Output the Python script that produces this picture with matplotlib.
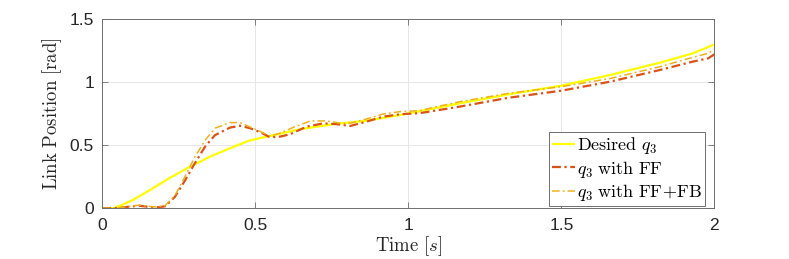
import matplotlib
matplotlib.use("Agg")
import matplotlib.pyplot as plt

# Desired q3
t_des = [0, 0.036, 0.058, 0.1, 0.156, 0.22, 0.287, 0.352, 0.417, 0.48, 0.548, 0.646,
         0.754, 0.864, 0.973, 1.169, 1.33, 1.5, 1.66, 1.823, 1.93, 2.0]
q_des = [0, 0, 0.02, 0.066, 0.145, 0.24, 0.33, 0.41, 0.476, 0.537, 0.574, 0.627,
         0.667, 0.695, 0.74, 0.833, 0.905, 0.973, 1.058, 1.156, 1.23, 1.30]

# q3 with FF
t_ff = [0, 0.04, 0.09, 0.12, 0.172, 0.205, 0.237, 0.27, 0.303, 0.336, 0.368, 0.417,
        0.45, 0.483, 0.515, 0.548, 0.58, 0.613, 0.668, 0.722, 0.766, 0.81, 0.864,
        0.918, 0.973, 1.038, 1.169, 1.33, 1.5, 1.66, 1.823, 1.93, 1.98, 2.0]
q_ff = [0, 0, 0.013, 0.02, 0.005, 0.015, 0.09, 0.22, 0.36, 0.49, 0.58, 0.64,
        0.655, 0.635, 0.605, 0.563, 0.568, 0.587, 0.648, 0.674, 0.667, 0.653, 0.688,
        0.727, 0.746, 0.755, 0.807, 0.878, 0.933, 1.005, 1.098, 1.164, 1.19, 1.222]

# q3 with FF+FB
t_fb = [0, 0.04, 0.09, 0.12, 0.172, 0.205, 0.237, 0.27, 0.303, 0.336, 0.368, 0.417,
        0.45, 0.483, 0.515, 0.548, 0.58, 0.625, 0.68, 0.73, 0.78, 0.81, 0.864, 0.918,
        0.973, 1.038, 1.1, 1.169, 1.33, 1.5, 1.66, 1.823, 1.93, 1.98, 2.0]
q_fb = [0, 0, 0.015, 0.025, 0.01, 0.02, 0.1, 0.25, 0.41, 0.54, 0.635, 0.68,
        0.68, 0.645, 0.61, 0.574, 0.595, 0.643, 0.693, 0.693, 0.675, 0.675, 0.709, 0.748,
        0.767, 0.775, 0.81, 0.846, 0.913, 0.965, 1.03, 1.124, 1.198, 1.23, 1.264]

xticks = [0, 0.5, 1, 1.5, 2]
xtick_labels = ["0", "0.5", "1", "1.5", "2"]
yticks = [0, 0.5, 1, 1.5]
ytick_labels = ["0", "0.5", "1", "1.5"]

plt.rcParams["mathtext.fontset"] = "cm"

fig = plt.figure(figsize=(7.89, 2.59), dpi=100)
ax = fig.add_axes([0.1297, 0.196, 0.7757, 0.7296])

ax.plot(t_des, q_des, color="#FFFF00", lw=1.6, solid_capstyle="butt",
        label=r"$\mathrm{Desired}\ q_3$")
ax.plot(t_ff, q_ff, color="#D95319", lw=1.6, linestyle=(0, (4, 1.6, 1, 1.6)),
        label=r"$q_3\ \mathrm{with\ FF}$")
ax.plot(t_fb, q_fb, color="#EDB120", lw=1.1, linestyle=(0, (5, 2, 1.2, 2)),
        label=r"$q_3\ \mathrm{with\ FF\!+\!FB}$")

ax.set_xlim(0, 2)
ax.set_ylim(0, 1.5)
ax.set_xticks(xticks)
ax.set_xticklabels(xtick_labels)
ax.set_yticks(yticks)
ax.set_yticklabels(ytick_labels)
ax.grid(True, color="#E6E6E6", lw=0.7)
ax.set_axisbelow(True)
for s in ax.spines.values():
    s.set_color("#6E6E6E")
    s.set_linewidth(0.7)
ax.tick_params(direction="in", length=4, width=0.6, color="#6E6E6E",
               top=True, right=True, labelsize=12.5, labelcolor="#262626")
ax.tick_params(axis="x", pad=7)
ax.tick_params(axis="y", pad=6)
for lbl in ax.get_xticklabels() + ax.get_yticklabels():
    lbl.set_family("Liberation Sans")

ax.set_xlabel(r"$\mathrm{Time}\ [s]$", fontsize=13.5, labelpad=1, color="#262626")
ax.set_ylabel(r"$\mathrm{Link\ Position\ [rad]}$", fontsize=13.5, labelpad=4, color="#262626")

leg = ax.legend(loc="lower right", bbox_to_anchor=(0.985, 0.012), fontsize=13,
                handlelength=1.3, handletextpad=0.1, borderpad=0.15, labelspacing=0.15,
                borderaxespad=0.0, fancybox=False, framealpha=1, edgecolor="#6E6E6E")
leg.get_frame().set_linewidth(0.7)

fig.savefig("out.png", dpi=100)
